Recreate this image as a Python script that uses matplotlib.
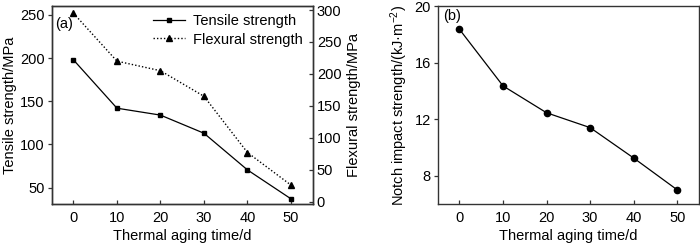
import matplotlib
matplotlib.use("Agg")
import matplotlib.pyplot as plt

plt.rcParams['font.family'] = ['Liberation Sans', 'DejaVu Sans']
plt.rcParams['mathtext.default'] = 'regular'
plt.rcParams['axes.unicode_minus'] = True

time_d = [0, 10, 20, 30, 40, 50]
tensile = [198, 142, 134, 113, 70.5, 37]
flexural = [295, 220, 205, 165, 77, 26]
impact = [18.35, 14.35, 12.45, 11.4, 9.25, 7.0]

x_ticks = [0, 10, 20, 30, 40, 50]
left_ticks = [50, 100, 150, 200, 250]
right_ticks = [0, 50, 100, 150, 200, 250, 300]
impact_ticks = [8, 12, 16, 20]

fig = plt.figure(figsize=(7.0, 2.44), dpi=100)
spine_c = '#333333'
fs = 10.5

def style(ax):
    for s in ax.spines.values():
        s.set_color(spine_c)
        s.set_linewidth(1.0)
    ax.tick_params(axis='x', direction='in', length=3, width=0.9, color=spine_c, labelsize=fs, pad=5)
    ax.tick_params(axis='y', direction='out', length=3, width=0.9, color=spine_c, labelsize=fs, pad=2)

# Panel (a)
ax1 = fig.add_axes([51.7/700, 1-204/244, 261/700, 198/244])
l1, = ax1.plot(time_d, tensile, '-', color='black', lw=0.9, marker='s', ms=3.5, label='Tensile strength')
ax1.set_xlim(-5, 55)
ax1.set_ylim(31, 260.4)
ax1.set_xticks(x_ticks)
ax1.set_yticks(left_ticks)
style(ax1)
ax1.set_xlabel('Thermal aging time/d', fontsize=fs, labelpad=3)
ax1.set_ylabel('Tensile strength/MPa', fontsize=fs, labelpad=2)
ax1.text(0.015, 0.91, '(a)', transform=ax1.transAxes, fontsize=fs, va='center', ha='left')

ax2 = ax1.twinx()
l2, = ax2.plot(time_d, flexural, linestyle=(0, (1, 1.5)), color='black', lw=1.0, marker='^', ms=4.5, label='Flexural strength')
ax2.set_ylim(-3.6, 306.3)
ax2.set_yticks(right_ticks)
for s in ax2.spines.values():
    s.set_color(spine_c)
    s.set_linewidth(1.0)
ax2.tick_params(axis='y', direction='in', length=3, width=0.9, color=spine_c, labelsize=fs, pad=3)
ax2.set_ylabel('Flexural strength/MPa', fontsize=fs, labelpad=4)

ax1.legend([l1, l2], ['Tensile strength', 'Flexural strength'], loc='upper right',
           bbox_to_anchor=(1.0, 1.01), frameon=False, fontsize=fs, handlelength=2.2,
           handletextpad=0.5, labelspacing=0.3, borderaxespad=0.3)

# Panel (b)
ax3 = fig.add_axes([437.7/700, 1-204/244, 261.3/700, 198/244])
ax3.plot(time_d, impact, '-', color='black', lw=0.9, marker='o', ms=4.5)
ax3.set_xlim(-5, 55)
ax3.set_ylim(6, 20)
ax3.set_xticks(x_ticks)
ax3.set_yticks(impact_ticks)
style(ax3)
ax3.set_xlabel('Thermal aging time/d', fontsize=fs, labelpad=3)
ax3.set_ylabel('Notch impact strength/(kJ·m$^{-2}$)', fontsize=fs, labelpad=3)
ax3.text(0.02, 0.95, '(b)', transform=ax3.transAxes, fontsize=fs, va='center', ha='left')

fig.savefig('out.png', dpi=100)
